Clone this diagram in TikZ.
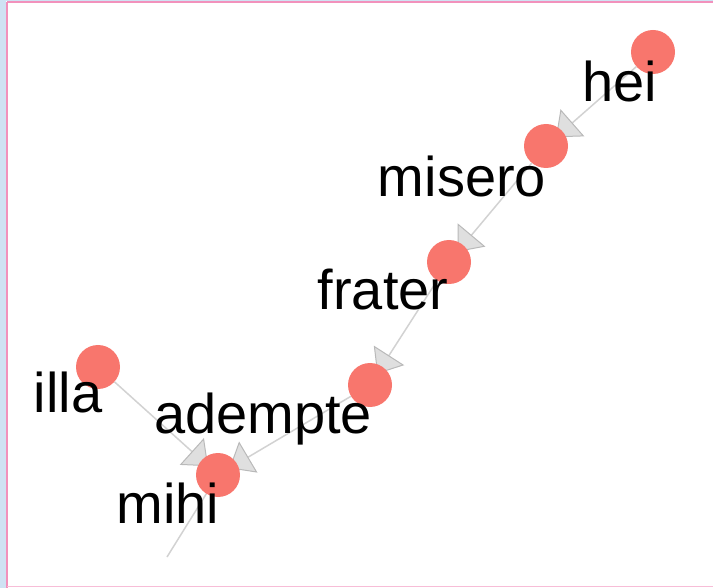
\documentclass[tikz,border=0pt]{standalone}
\usepackage{fontspec}
\setmainfont{Liberation Sans}
\usetikzlibrary{arrows.meta,backgrounds}
\definecolor{vertexred}{RGB}{248,118,109}
\definecolor{framepink}{RGB}{242,145,188}
\definecolor{frameblue}{RGB}{207,226,243}

\begin{document}
\begin{tikzpicture}[x=1pt, y=-1pt,
  vertex/.style={circle, fill=vertexred, minimum size=44pt, inner sep=0pt},
  word/.style={anchor=base, inner sep=0pt, font=\fontsize{56}{60}\selectfont},
  arc/.style={draw=gray!35, line width=1.5pt, shorten >=-9pt,
    -{Triangle[length=22pt, width=36pt, color=gray!55, fill=gray!25, line width=1pt]}}]
  \useasboundingbox (0,0) rectangle (713,588);
  % frame
  \fill[frameblue] (0,0) rectangle (6,588);
  \fill[frameblue] (0,0) rectangle (713,1);
  \draw[framepink, line width=2pt] (7,2) -- (713,2);
  \draw[framepink, line width=2pt] (7,2) -- (7,588);
  \draw[framepink!60, line width=1pt] (7,586) -- (713,586);

  \node[vertex] (hei)     at (653, 52)  {};
  \node[vertex] (misero)  at (546, 146) {};
  \node[vertex] (frater)  at (449, 262) {};
  \node[vertex] (adempte) at (370, 385) {};
  \node[vertex] (mihi)    at (218, 475) {};
  \node[vertex] (illa)    at (98, 367)  {};
  \coordinate (tail) at (167, 557);

  % edges behind the vertices
  \begin{scope}[on background layer]
  \path
    (hei) edge[arc] (misero)
    (misero) edge[arc] (frater)
    (frater) edge[arc] (adempte)
    (adempte) edge[arc] (mihi)
    (illa) edge[arc] (mihi)
    (mihi) edge[draw=gray!35, line width=1.5pt] (tail);
  \end{scope}

  % labels
  \node[word] (hei_lbl)     at (620, 102) {hei};
  \node[word] (misero_lbl)  at (462, 197) {misero};
  \node[word] (frater_lbl)  at (383, 310) {frater};
  \node[word] (adempte_lbl) at (263, 433) {adempte};
  \node[word] (mihi_lbl)    at (168, 523) {mihi};
  \node[word] (illa_lbl)    at (68, 413)  {illa};
\end{tikzpicture}
\end{document}
